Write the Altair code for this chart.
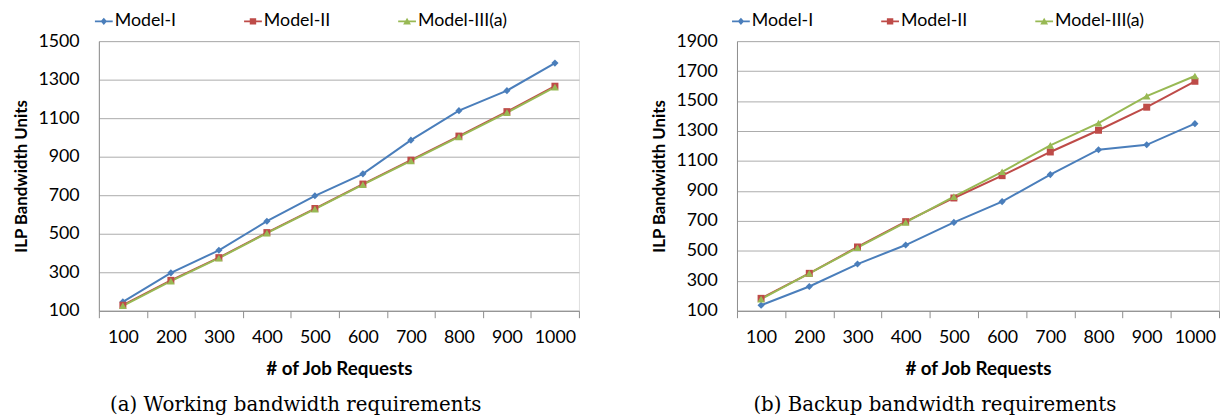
import altair as alt
import pandas as pd

# ---------------- data ----------------
jobs = [100, 200, 300, 400, 500, 600, 700, 800, 900, 1000]
series = ["Model-I", "Model-II", "Model-III(a)"]

work_model1 = [146, 297, 414, 565, 697, 811, 986, 1139, 1243, 1386]
work_model2 = [129, 258, 376, 506, 631, 758, 882, 1007, 1134, 1266]
work_model3 = [126, 254, 373, 503, 628, 755, 878, 1003, 1129, 1261]

backup_model1 = [137, 262, 412, 539, 690, 829, 1009, 1175, 1208, 1349]
backup_model2 = [183, 350, 526, 695, 853, 1002, 1160, 1305, 1459, 1632]
backup_model3 = [178, 350, 521, 690, 862, 1028, 1204, 1353, 1533, 1667]

work_yticks = [100, 300, 500, 700, 900, 1100, 1300, 1500]
backup_yticks = [100, 300, 500, 700, 900, 1100, 1300, 1500, 1700, 1900]

x_title = "# of Job Requests"
y_title = "ILP Bandwidth Units"
caption_a = "(a) Working bandwidth requirements"
caption_b = "(b) Backup bandwidth requirements"

colors = ["#4A7EBB", "#BE4B48", "#98B954"]
point_shapes = ["diamond", "square", "triangle-up"]
point_sizes = [52, 50, 60]
legend_paths = [
    "M-1,-0.1H1V0.1H-1Z M0,-0.42L0.36,0L0,0.42L-0.36,0Z",
    "M-1,-0.1H1V0.1H-1Z M-0.36,-0.36H0.36V0.36H-0.36Z",
    "M-1,-0.1H1V0.1H-1Z M0,-0.42L0.44,0.36H-0.44Z",
]


def long_table(m1, m2, m3):
    rows = []
    for name, vals in zip(series, [m1, m2, m3]):
        for j, v in zip(jobs, vals):
            rows.append({"jobs": j, "bw": v, "model": name})
    return pd.DataFrame(rows)


FONT = "Lato"


def panel(df, yticks, caption, width, legend_x):
    x_enc = alt.X(
        "jobs:O",
        scale=alt.Scale(type="band", paddingInner=0, paddingOuter=0),
        axis=alt.Axis(
            tickBand="extent",
            labelAngle=0,
            grid=False,
            ticks=True,
            tickSize=7,
            tickColor="#8c8c8c",
            domainColor="#8c8c8c",
            labelPadding=11,
            labelFont=FONT,
            labelFontSize=18,
            labelColor="#000000",
            title=x_title,
            titleFont=FONT,
            titleFontSize=19,
            titleFontWeight="bold",
            titleColor="#000000",
            titlePadding=13,
        ),
    )
    y_enc = alt.Y(
        "bw:Q",
        scale=alt.Scale(domain=[yticks[0], yticks[-1]], nice=False, zero=False),
        axis=alt.Axis(
            values=yticks,
            format="d",
            grid=True,
            gridColor="#ababab",
            gridWidth=1,
            ticks=False,
            tickSize=0,
            domainColor="#8c8c8c",
            labelPadding=20,
            labelFont=FONT,
            labelFontSize=18,
            labelColor="#000000",
            title=y_title,
            titleFont=FONT,
            titleFontSize=17,
            titleFontWeight="bold",
            titleColor="#000000",
            titlePadding=8,
        ),
    )
    color_enc = alt.Color("model:N", scale=alt.Scale(range=colors), legend=None)
    base = alt.Chart(df).encode(x=x_enc, y=y_enc)

    layers = [base.mark_line(strokeWidth=2).encode(color=color_enc)]
    for name, shp, sz in zip(series, point_shapes, point_sizes):
        layers.append(
            base.transform_filter(alt.datum.model == name)
            .mark_point(shape=shp, filled=True, size=sz, opacity=1)
            .encode(color=color_enc)
        )
    legend = alt.Legend(
        title=None,
        orient="none",
        legendX=legend_x,
        legendY=-29,
        direction="horizontal",
        symbolSize=324,
        symbolOpacity=1,
        symbolStrokeWidth=0,
        labelFont=FONT,
        labelFontSize=18,
        labelColor="#000000",
        labelOffset=2,
        columnPadding=68,
        padding=0,
    )
    ghost = base.mark_point(filled=True, opacity=0).encode(
        fill=alt.Fill("model:N", scale=alt.Scale(domain=series, range=colors), legend=legend),
        shape=alt.Shape("model:N", scale=alt.Scale(domain=series, range=legend_paths), legend=legend),
    )
    layers.append(ghost)
    return alt.layer(*layers).properties(
        width=width,
        height=273,
        title=alt.TitleParams(
            caption,
            orient="bottom",
            anchor="middle",
            frame="bounds",
            font="DejaVu Serif",
            fontSize=20,
            fontWeight="normal",
            color="#000000",
            offset=17,
        ),
    )


left = panel(long_table(work_model1, work_model2, work_model3), work_yticks, caption_a, 486, -4)
right = panel(long_table(backup_model1, backup_model2, backup_model3), backup_yticks, caption_b, 488, -5)

chart = (
    alt.hconcat(left, right, spacing=70)
    .resolve_scale(fill="independent", shape="independent")
    .resolve_legend(fill="independent", shape="independent")
    .properties(padding={"left": 3, "top": 1, "right": 0, "bottom": 0})
    .configure_view(stroke=None)
    .configure(background="#ffffff")
)

chart.save("out.html", embed_options={"renderer": "svg", "actions": False})
